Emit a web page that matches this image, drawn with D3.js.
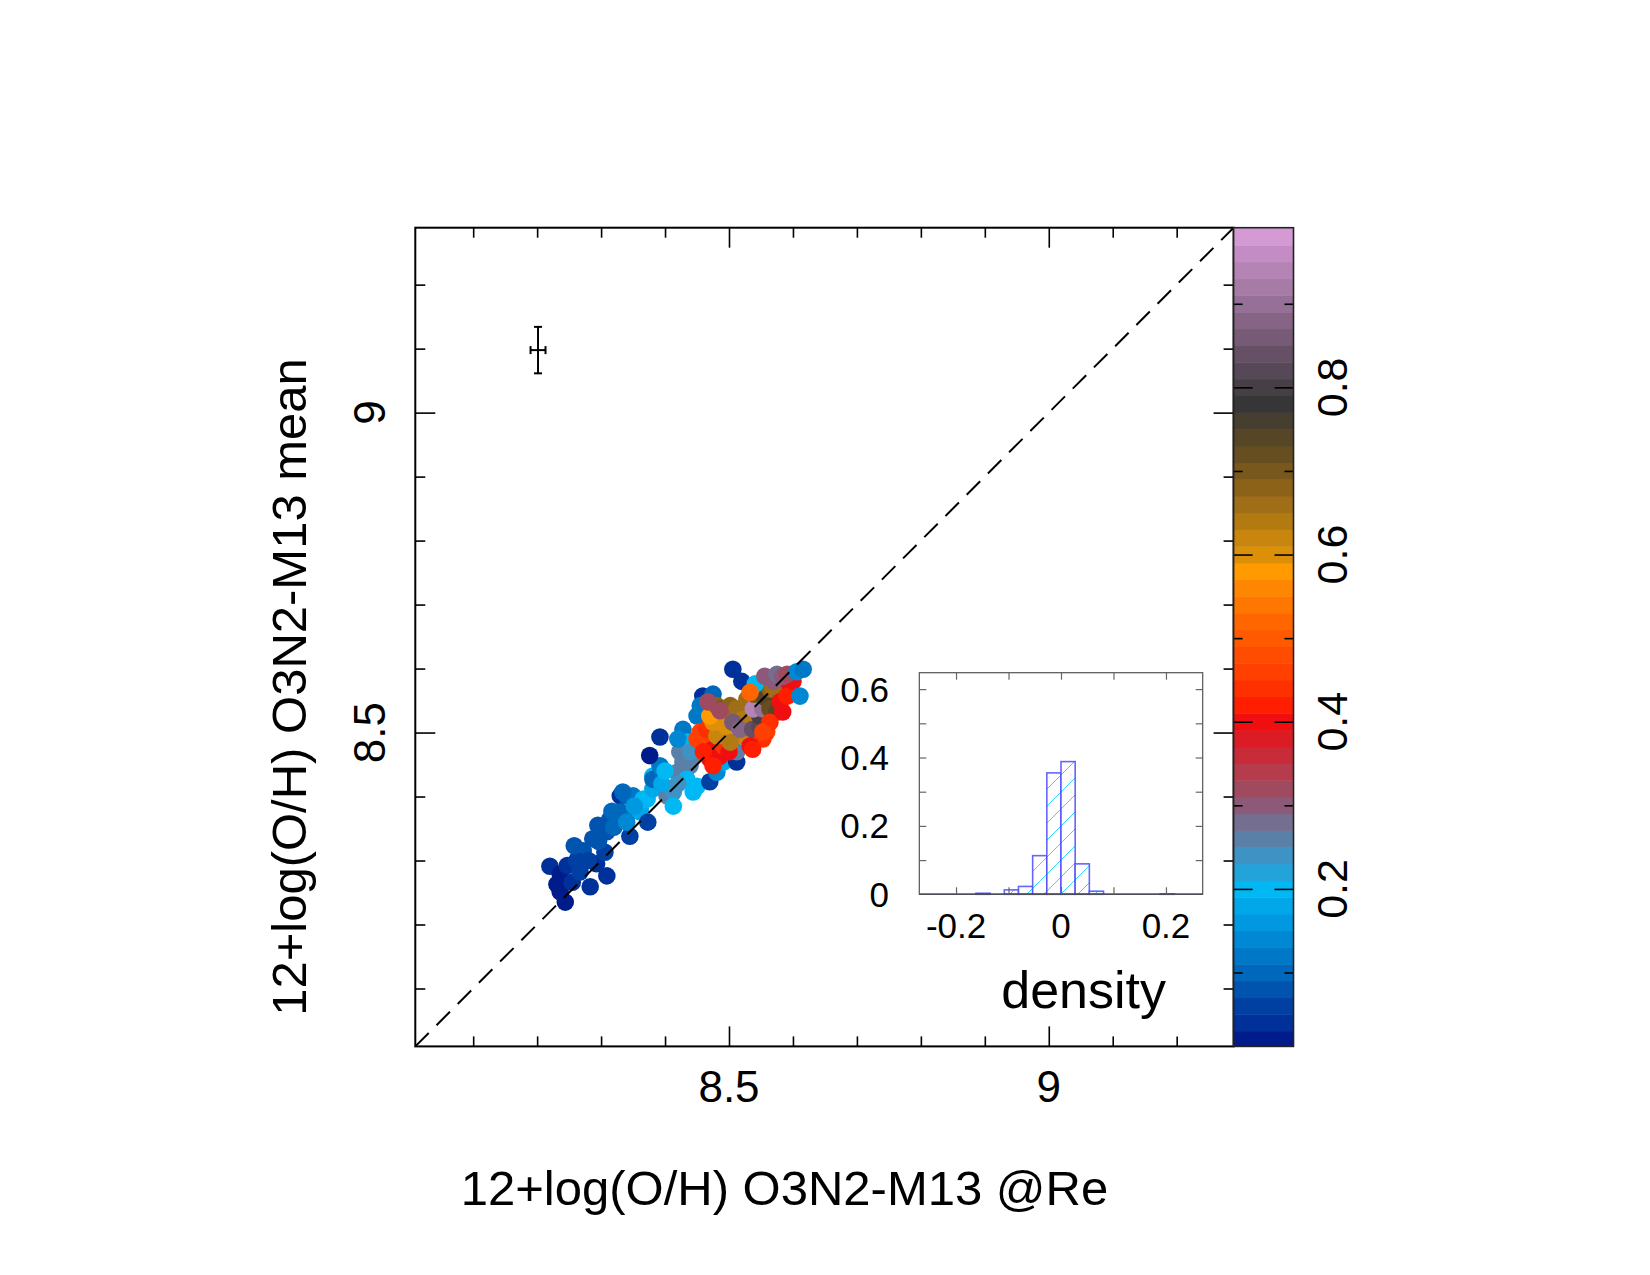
<!DOCTYPE html>
<html>
<head>
<meta charset="utf-8">
<script src="https://cdn.jsdelivr.net/npm/d3@7"></script>
<style>
  html, body { margin: 0; padding: 0; background: #fff; }
  text { font-family: "Liberation Sans", Arial, Helvetica, sans-serif; fill: #000; }
</style>
</head>
<body>
<svg id="chart" width="1650" height="1275"></svg>
<script>
// ---------------- DATA ----------------
// scatter points: [x (O3N2-M13 @Re), y (O3N2-M13 mean), colour value]
const pointsLow = [
  [8.244, 8.235, 0.02], [8.220, 8.291, 0.04], [8.231, 8.263, 0.02], [8.236, 8.251, 0.02],
  [8.236, 8.279, 0.02], [8.255, 8.266, 0.04], [8.247, 8.292, 0.04], [8.267, 8.282, 0.06],
  [8.283, 8.259, 0.04], [8.293, 8.295, 0.04], [8.309, 8.276, 0.04], [8.272, 8.315, 0.08],
  [8.287, 8.334, 0.08], [8.306, 8.313, 0.06], [8.309, 8.345, 0.08], [8.295, 8.355, 0.08],
  [8.303, 8.349, 0.08], [8.314, 8.365, 0.08], [8.317, 8.377, 0.10], [8.330, 8.368, 0.10],
  [8.345, 8.338, 0.06], [8.330, 8.401, 0.04], [8.340, 8.401, 0.10], [8.330, 8.376, 0.10],
  [8.345, 8.376, 0.10], [8.350, 8.401, 0.12], [8.334, 8.407, 0.10], [8.361, 8.381, 0.14],
  [8.361, 8.376, 0.18], [8.373, 8.360, 0.06], [8.372, 8.396, 0.20], [8.366, 8.396, 0.20],
  [8.262, 8.300, 0.06], [8.280, 8.300, 0.06], [8.258, 8.323, 0.08], [8.296, 8.330, 0.08],
  [8.320, 8.352, 0.10], [8.340, 8.360, 0.14], [8.352, 8.385, 0.16]
];
const pointsMid = [
  [8.381, 8.432, 0.20], [8.381, 8.412, 0.18], [8.381, 8.427, 0.10], [8.392, 8.448, 0.12],
  [8.376, 8.464, 0.02], [8.392, 8.493, 0.04], [8.403, 8.401, 0.26], [8.413, 8.407, 0.24],
  [8.413, 8.385, 0.20], [8.419, 8.438, 0.26], [8.428, 8.454, 0.26], [8.439, 8.448, 0.26],
  [8.434, 8.427, 0.20], [8.444, 8.407, 0.20], [8.450, 8.416, 0.20], [8.445, 8.463, 0.26],
  [8.428, 8.505, 0.12], [8.434, 8.485, 0.20], [8.470, 8.423, 0.06], [8.481, 8.438, 0.14],
  [8.491, 8.454, 0.18], [8.512, 8.454, 0.04], [8.512, 8.470, 0.26],
  [8.395, 8.420, 0.18], [8.400, 8.440, 0.20], [8.420, 8.420, 0.24], [8.423, 8.470, 0.26],
  [8.440, 8.470, 0.24], [8.420, 8.490, 0.14],
  [8.466, 8.548, 0.04], [8.459, 8.557, 0.04], [8.475, 8.560, 0.10], [8.455, 8.542, 0.12],
  [8.450, 8.526, 0.12], [8.455, 8.532, 0.12]
];
const pointsHigh = [
  [8.450, 8.490, 0.46], [8.455, 8.501, 0.46], [8.455, 8.487, 0.46], [8.466, 8.482, 0.46],
  [8.470, 8.459, 0.40], [8.475, 8.474, 0.40], [8.486, 8.463, 0.40], [8.475, 8.448, 0.42],
  [8.491, 8.479, 0.44], [8.465, 8.505, 0.44], [8.460, 8.470, 0.42], [8.500, 8.470, 0.40],
  [8.481, 8.495, 0.62], [8.491, 8.495, 0.62], [8.475, 8.521, 0.60], [8.475, 8.516, 0.60],
  [8.470, 8.526, 0.58], [8.481, 8.542, 0.68], [8.486, 8.537, 0.70], [8.497, 8.526, 0.62],
  [8.502, 8.542, 0.68], [8.512, 8.537, 0.66], [8.528, 8.552, 0.66], [8.528, 8.521, 0.62],
  [8.522, 8.495, 0.62], [8.502, 8.485, 0.64], [8.520, 8.520, 0.64], [8.495, 8.510, 0.60],
  [8.467, 8.548, 0.32], [8.486, 8.534, 0.32],
  [8.506, 8.516, 0.86], [8.517, 8.505, 0.88], [8.537, 8.505, 0.84], [8.548, 8.510, 0.82],
  [8.548, 8.526, 0.80], [8.544, 8.548, 0.92], [8.538, 8.537, 0.94], [8.553, 8.537, 0.90],
  [8.540, 8.560, 0.70], [8.556, 8.555, 0.74],
  [8.564, 8.568, 0.68], [8.569, 8.568, 0.66], [8.564, 8.537, 0.72], [8.575, 8.532, 0.74],
  [8.559, 8.501, 0.46], [8.553, 8.490, 0.44], [8.564, 8.516, 0.44], [8.553, 8.501, 0.46],
  [8.533, 8.479, 0.40], [8.537, 8.474, 0.42], [8.580, 8.548, 0.40], [8.584, 8.532, 0.40],
  [8.595, 8.573, 0.40], [8.591, 8.557, 0.42], [8.600, 8.580, 0.40],
  [8.506, 8.599, 0.04], [8.520, 8.580, 0.04], [8.541, 8.576, 0.20], [8.533, 8.563, 0.52],
  [8.556, 8.588, 0.30], [8.570, 8.580, 0.30], [8.575, 8.591, 0.28], [8.584, 8.588, 0.30],
  [8.591, 8.591, 0.32], [8.606, 8.595, 0.14], [8.616, 8.599, 0.12], [8.611, 8.557, 0.14]
];

// typical error bar: [x, y, xerr, yerr]
const errorBar = [8.2014, 9.0977, 0.0117, 0.0363];

// main axes
const axisDomain = [8.0095, 9.289];
const minorTicks = [8.1, 8.2, 8.3, 8.4, 8.5, 8.6, 8.7, 8.8, 8.9, 9.0, 9.1, 9.2];
const majorTicks = [8.5, 9.0];
const majorLabels = ["8.5", "9"];
const xTitle = "12+log(O/H) O3N2-M13 @Re";
const yTitle = "12+log(O/H) O3N2-M13 mean";

// colour bar
const cbDomain = [0.0116, 0.991];
const cbBandValues = [0.02,0.04,0.06,0.08,0.10,0.12,0.14,0.16,0.18,0.20,0.22,0.24,0.26,0.28,0.30,0.32,0.34,0.36,0.38,0.40,0.42,0.44,0.46,0.48,0.50,0.52,0.54,0.56,0.58,0.60,0.62,0.64,0.66,0.68,0.70,0.72,0.74,0.76,0.78,0.80,0.82,0.84,0.86,0.88,0.90,0.92,0.94,0.96,0.98];
const cbBandColors = [
  "#001c8a","#00309a","#0040a2","#0054ae","#0068bc","#0078c8","#0088d4","#0098e0","#00a8ea","#00b8f4",
  "#22a4da","#3e92c4","#5a80a8","#746e90","#8c5a78","#a04a60","#b43c4c","#c82c38","#dc1c24","#f00e10",
  "#ff1e00","#ff3000","#ff4000","#ff4c00","#ff5a00","#ff6600","#ff7600","#ff8600","#ff9a00","#dc9008",
  "#c8860e","#b47a12","#a06e16","#8c6218","#78581c","#664e20","#564626","#463e2e","#363636","#464046",
  "#564856","#665066","#765a76","#866486","#967096","#a67ca6","#b484b4","#c48cc4","#d49ad4"
];
const cbMinorTicks = [0.1,0.2,0.3,0.4,0.5,0.6,0.7,0.8,0.9];
const cbMajorTicks = [0.2,0.4,0.6,0.8];
const cbLabels = ["0.2","0.4","0.6","0.8"];

// inset histogram (fraction per bin)
const histEdgesLeft = [-0.270,-0.243,-0.216,-0.189,-0.162,-0.135,-0.108,-0.081,-0.054,-0.027,0.000,0.027,0.054,0.081,0.108,0.135,0.162,0.189,0.216,0.243];
const histBinWidth = 0.027;
const histValues =    [0,0,0,0,0.003,0,0.013,0.023,0.113,0.355,0.388,0.089,0.009,0,0,0,0,0.001,0,0];
const insetXDomain = [-0.27, 0.27];
const insetYDomain = [0, 0.648];
const insetXTicks = [-0.2,-0.1,0,0.1,0.2];
const insetXLabels = ["-0.2","0","0.2"];
const insetXLabelVals = [-0.2,0,0.2];
const insetYTicks = [0,0.1,0.2,0.3,0.4,0.5,0.6];
const insetYLabelVals = [0,0.2,0.4,0.6];
const insetYLabels = ["0","0.2","0.4","0.6"];
const insetTitle = "density";

// ---------------- DRAW ----------------
const svg = d3.select("#chart");
svg.append("rect").attr("width",1650).attr("height",1275).attr("fill","#fff");

const P = {l: 415.3, r: 1233.6, t: 227.7, b: 1046.4};
const x = d3.scaleLinear().domain(axisDomain).range([P.l, P.r]);
const y = d3.scaleLinear().domain(axisDomain).range([P.b, P.t]);

const breaks = cbBandValues.slice(1).map((v, i) => (v + cbBandValues[i]) / 2);
const color = d3.scaleThreshold().domain(breaks).range(cbBandColors);

// points
const allPts = pointsLow.concat(pointsMid, pointsHigh);
svg.append("g").selectAll("circle").data(allPts).join("circle")
  .attr("cx", d => x(d[0])).attr("cy", d => y(d[1])).attr("r", 8.8)
  .attr("fill", d => color(d[2]));

// 1:1 dashed line
svg.append("line")
  .attr("x1", x(axisDomain[0])).attr("y1", y(axisDomain[0]))
  .attr("x2", x(axisDomain[1])).attr("y2", y(axisDomain[1]))
  .attr("stroke", "#000").attr("stroke-width", 2).attr("stroke-dasharray", "19,11");

// axes ticks (inside, all four sides)
function addAxis(axisGen, transform) {
  const g = svg.append("g").attr("transform", transform).call(axisGen);
  g.select(".domain").remove();
  g.selectAll(".tick line").attr("stroke", "#000").attr("stroke-width", 1.6);
  g.selectAll("text").remove();
  return g;
}
const minorOnly = minorTicks.filter(v => !majorTicks.includes(v));
addAxis(d3.axisBottom(x).tickValues(minorOnly).tickSize(-10), `translate(0,${P.b})`);
addAxis(d3.axisBottom(x).tickValues(majorTicks).tickSize(-20), `translate(0,${P.b})`);
addAxis(d3.axisTop(x).tickValues(minorOnly).tickSize(-10), `translate(0,${P.t})`);
addAxis(d3.axisTop(x).tickValues(majorTicks).tickSize(-20), `translate(0,${P.t})`);
addAxis(d3.axisLeft(y).tickValues(minorOnly).tickSize(-10), `translate(${P.l},0)`);
addAxis(d3.axisLeft(y).tickValues(majorTicks).tickSize(-20), `translate(${P.l},0)`);
addAxis(d3.axisRight(y).tickValues(minorOnly).tickSize(-10), `translate(${P.r},0)`);
addAxis(d3.axisRight(y).tickValues(majorTicks).tickSize(-20), `translate(${P.r},0)`);

// plot frame
svg.append("rect").attr("x", P.l).attr("y", P.t).attr("width", P.r - P.l).attr("height", P.b - P.t)
  .attr("fill", "none").attr("stroke", "#000").attr("stroke-width", 2);

// tick labels
svg.append("g").selectAll("text").data(majorTicks).join("text")
  .attr("x", d => x(d)).attr("y", 1102).attr("text-anchor", "middle")
  .attr("font-size", 44).text((d, i) => majorLabels[i]);
svg.append("g").selectAll("text").data(majorTicks).join("text")
  .attr("transform", d => `translate(385,${y(d)}) rotate(-90)`).attr("text-anchor", "middle")
  .attr("font-size", 44).text((d, i) => majorLabels[i]);

// axis titles
svg.append("text").attr("x", 784.5).attr("y", 1205).attr("text-anchor", "middle")
  .attr("font-size", 49).text(xTitle);
svg.append("text").attr("transform", "translate(306,687) rotate(-90)").attr("text-anchor", "middle")
  .attr("font-size", 49).text(yTitle);

// error bar
const eb = svg.append("g").attr("stroke", "#000").attr("stroke-width", 2);
const ex = x(errorBar[0]), ey = y(errorBar[1]);
const exl = x(errorBar[0] - errorBar[2]), exr = x(errorBar[0] + errorBar[2]);
const eyt = y(errorBar[1] + errorBar[3]), eyb = y(errorBar[1] - errorBar[3]);
eb.append("line").attr("x1", ex).attr("x2", ex).attr("y1", eyt).attr("y2", eyb);
eb.append("line").attr("x1", ex - 4).attr("x2", ex + 4).attr("y1", eyt).attr("y2", eyt);
eb.append("line").attr("x1", ex - 4).attr("x2", ex + 4).attr("y1", eyb).attr("y2", eyb);
eb.append("line").attr("x1", exl).attr("x2", exr).attr("y1", ey).attr("y2", ey);
eb.append("line").attr("x1", exl).attr("x2", exl).attr("y1", ey - 4).attr("y2", ey + 4);
eb.append("line").attr("x1", exr).attr("x2", exr).attr("y1", ey - 4).attr("y2", ey + 4);

// ---------------- COLOUR BAR ----------------
const CB = {l: 1233.6, r: 1293.5};
const cy = d3.scaleLinear().domain(cbDomain).range([P.b, P.t]);
const bandEdges = [cbDomain[0]].concat(breaks, [cbDomain[1]]);
svg.append("g").selectAll("rect").data(cbBandColors).join("rect")
  .attr("x", CB.l).attr("width", CB.r - CB.l)
  .attr("y", (d, i) => cy(bandEdges[i + 1]))
  .attr("height", (d, i) => cy(bandEdges[i]) - cy(bandEdges[i + 1]) + 0.5)
  .attr("fill", d => d);
const cbMinorOnly = cbMinorTicks.filter(v => !cbMajorTicks.some(m => Math.abs(m - v) < 1e-9));
function cbAxis(gen, tr) {
  const g = svg.append("g").attr("transform", tr).call(gen);
  g.select(".domain").remove();
  g.selectAll(".tick line").attr("stroke", "#000").attr("stroke-width", 1.6);
  g.selectAll("text").remove();
}
cbAxis(d3.axisLeft(cy).tickValues(cbMinorOnly).tickSize(-9), `translate(${CB.l},0)`);
cbAxis(d3.axisLeft(cy).tickValues(cbMajorTicks).tickSize(-19), `translate(${CB.l},0)`);
cbAxis(d3.axisRight(cy).tickValues(cbMinorOnly).tickSize(-9), `translate(${CB.r},0)`);
cbAxis(d3.axisRight(cy).tickValues(cbMajorTicks).tickSize(-19), `translate(${CB.r},0)`);
svg.append("rect").attr("x", CB.l).attr("y", P.t).attr("width", CB.r - CB.l).attr("height", P.b - P.t)
  .attr("fill", "none").attr("stroke", "#222").attr("stroke-width", 1.6);
svg.append("g").selectAll("text").data(cbMajorTicks).join("text")
  .attr("transform", d => `translate(1347,${cy(d)}) rotate(-90)`).attr("text-anchor", "middle")
  .attr("font-size", 43).text((d, i) => cbLabels[i]);

// ---------------- INSET HISTOGRAM ----------------
const I = {l: 919.3, r: 1202.7, t: 672.7, b: 894.3};
const ix = d3.scaleLinear().domain(insetXDomain).range([I.l, I.r]);
const iy = d3.scaleLinear().domain(insetYDomain).range([I.b, I.t]);

const defs = svg.append("defs");
const pat = defs.append("pattern").attr("id", "hatch").attr("patternUnits", "userSpaceOnUse")
  .attr("width", 17).attr("height", 17);
pat.append("rect").attr("width", 17).attr("height", 17).attr("fill", "#fff");
pat.append("path").attr("d", "M-2,19 L19,-2 M-2,2 L2,-2 M15,19 L19,15")
  .attr("stroke", "#2fd6ff").attr("stroke-width", 1);

svg.append("rect").attr("x", I.l).attr("y", I.t).attr("width", I.r - I.l).attr("height", I.b - I.t)
  .attr("fill", "#fff");

const bins = histEdgesLeft.map((e, i) => ({x0: e, x1: e + histBinWidth, v: histValues[i]}));
svg.append("g").selectAll("rect").data(bins.filter(b => b.v > 0)).join("rect")
  .attr("x", d => ix(d.x0)).attr("width", d => ix(d.x1) - ix(d.x0))
  .attr("y", d => iy(d.v)).attr("height", d => iy(0) - iy(d.v))
  .attr("fill", "url(#hatch)").attr("stroke", "#4a4aff").attr("stroke-width", 1.6).attr("stroke-opacity", 0.85);
svg.append("line").attr("x1", ix(insetXDomain[0])).attr("x2", ix(insetXDomain[1]))
  .attr("y1", iy(0)).attr("y2", iy(0)).attr("stroke", "#1a1a9a").attr("stroke-width", 1.6);

function insetAxis(gen, tr) {
  const g = svg.append("g").attr("transform", tr).call(gen);
  g.select(".domain").remove();
  g.selectAll(".tick line").attr("stroke", "#666").attr("stroke-width", 1.2);
  g.selectAll("text").remove();
}
insetAxis(d3.axisBottom(ix).tickValues(insetXTicks).tickSize(-7), `translate(0,${I.b})`);
insetAxis(d3.axisTop(ix).tickValues(insetXTicks).tickSize(-7), `translate(0,${I.t})`);
insetAxis(d3.axisLeft(iy).tickValues(insetYTicks.slice(1)).tickSize(-7), `translate(${I.l},0)`);
insetAxis(d3.axisRight(iy).tickValues(insetYTicks.slice(1)).tickSize(-7), `translate(${I.r},0)`);
svg.append("rect").attr("x", I.l).attr("y", I.t).attr("width", I.r - I.l).attr("height", I.b - I.t)
  .attr("fill", "none").attr("stroke", "#555").attr("stroke-width", 1.2);

svg.append("g").selectAll("text").data(insetXLabelVals).join("text")
  .attr("x", d => ix(d)).attr("y", 938).attr("text-anchor", "middle")
  .attr("font-size", 35).text((d, i) => insetXLabels[i]);
svg.append("g").selectAll("text").data(insetYLabelVals).join("text")
  .attr("x", 889).attr("y", d => iy(d) + 12.5).attr("text-anchor", "end")
  .attr("font-size", 35).text((d, i) => insetYLabels[i]);
svg.append("text").attr("x", 1166).attr("y", 1008).attr("text-anchor", "end")
  .attr("font-size", 52).text(insetTitle);
</script>
</body>
</html>
